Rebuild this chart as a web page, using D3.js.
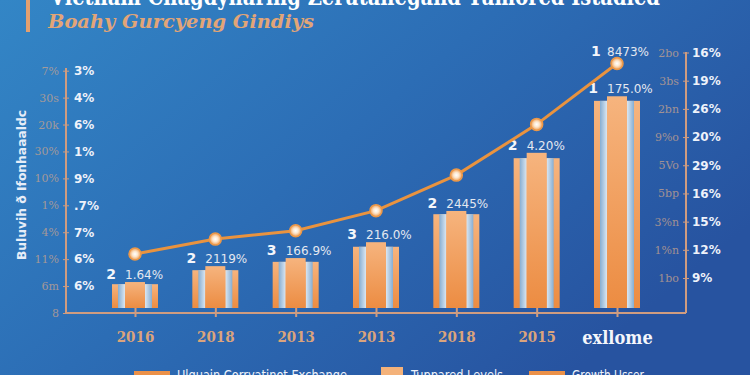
<!DOCTYPE html>
<meta charset="utf-8">
<style>
body { margin: 0; background: #2c6cb3; }
svg { display: block; }
.tick-faded { font: 11px "DejaVu Serif", serif; fill: #c9a48e; opacity: .75; }
.tick-white { font: bold 12px "DejaVu Sans", sans-serif; fill: #eef2fa; }
.axis path, .axis line { stroke: #cf9c80; }
.barlab { font: 12px "DejaVu Sans", sans-serif; fill: #e4e8f0; }
.barnum { font: bold 14px "DejaVu Sans", sans-serif; fill: #f4f6fb; }
.legend text { font: 14px "DejaVu Sans", sans-serif; fill: #eef2fa; }
</style>
<body>
<script src="https://cdn.jsdelivr.net/npm/d3@7"></script>
<script>

var width = 750, height = 375;

// data
var years = ["2016", "2018", "2013", "2013", "2018", "2015", "exllome"];
var outerVals = [1.07, 1.59, 1.90, 2.46, 3.67, 5.75, 7.88];
var innerVals = [1.15, 1.74, 2.04, 2.63, 3.79, 5.95, 8.05];
var barNums = ["2", "2", "3", "3", "2", "2", "1"];
var barLabels = ["1.64%", "2119%", "166.9%", "216.0%", "2445%", "4.20%", "175.0%"];
var lineVals = [1.85, 2.38, 2.68, 3.39, 4.65, 6.45, 8.61];
var lineTopNum = "1", lineTopLabel = "8473%";

var leftFaded = ["8", "6m", "11%", "4%", "1%", "10%", "30%", "20k", "30s", "7%"];
var leftWhite = ["", "6%", "6%", "7%", ".7%", "9%", "1%", "6%", "4%", "3%"];
var rightFaded = ["", "1bo", "1%n", "3%n", "5bp", "5Vo", "9%o", "2bn", "3bs", "2bo"];
var rightWhite = ["", "9%", "12%", "15%", "16%", "29%", "20%", "26%", "19%", "16%"];

var title = "Vietnam Cnagdynaring Zerutanegand Tumored Istadied";
var subtitle = "Boahy Gurcyeng Gindiys";
var yTitle = "Buluvih ð Ifonhaaaldc";
var legendItems = ["Ulquain Corryatinot Exchange", "Tuppared Levels", "Growth Usser"];

var svg = d3.select("body").append("svg")
    .attr("width", width)
    .attr("height", height);

var defs = svg.append("defs");

var bg = defs.append("linearGradient").attr("id", "bg")
    .attr("x1", 0).attr("y1", 0).attr("x2", 1).attr("y2", 0.6);
bg.append("stop").attr("offset", 0).attr("stop-color", "#3386c6");
bg.append("stop").attr("offset", 0.5).attr("stop-color", "#2c6db5");
bg.append("stop").attr("offset", 1).attr("stop-color", "#2753a0");

var og = defs.append("linearGradient").attr("id", "orange")
    .attr("x1", 0).attr("y1", 0).attr("x2", 0).attr("y2", 1);
og.append("stop").attr("offset", 0).attr("stop-color", "#f6b47e");
og.append("stop").attr("offset", 1).attr("stop-color", "#ec8c42");

var sg = defs.append("linearGradient").attr("id", "stripeL")
    .attr("x1", 0).attr("y1", 0).attr("x2", 1).attr("y2", 0);
sg.append("stop").attr("offset", 0).attr("stop-color", "#86aed3");
sg.append("stop").attr("offset", 1).attr("stop-color", "#dbe6f0");
var sg2 = defs.append("linearGradient").attr("id", "stripeR")
    .attr("x1", 0).attr("y1", 0).attr("x2", 1).attr("y2", 0);
sg2.append("stop").attr("offset", 0).attr("stop-color", "#dbe6f0");
sg2.append("stop").attr("offset", 1).attr("stop-color", "#86aed3");

var dot = defs.append("radialGradient").attr("id", "dot");
dot.append("stop").attr("offset", 0).attr("stop-color", "#ffffff");
dot.append("stop").attr("offset", 0.45).attr("stop-color", "#fde6cc");
dot.append("stop").attr("offset", 1).attr("stop-color", "#f09a4c");

svg.append("rect").attr("width", width).attr("height", height).attr("fill", "url(#bg)");

// title block
svg.append("rect").attr("x", 26).attr("y", 0).attr("width", 4).attr("height", 32).attr("fill", "#e3a070");
svg.append("text").attr("x", 50).attr("y", 5)
    .attr("textLength", 610).attr("lengthAdjust", "spacingAndGlyphs")
    .style("font", "bold 24px 'DejaVu Serif', serif").style("fill", "#ffffff")
    .text(title);
svg.append("text").attr("x", 48).attr("y", 28)
    .attr("textLength", 266).attr("lengthAdjust", "spacingAndGlyphs")
    .style("font", "italic 600 18px 'DejaVu Serif', serif").style("fill", "#e2a577")
    .text(subtitle);

// scales
var x = d3.scalePoint().domain(d3.range(years.length)).range([135, 617]);
var yL = d3.scaleLinear().domain([0, 9]).range([313, 70.7]);
var yR = d3.scaleLinear().domain([0, 9]).range([306.2, 52.5]);
var gap = 5;

// axes
var leftAx = svg.append("g").attr("class", "axis").attr("transform", "translate(66,0)");
leftAx.append("g")
    .call(d3.axisLeft(yL).ticks(9).tickSize(3).tickPadding(4).tickFormat(function(d) { return leftFaded[d]; }))
    .call(function(g) { g.select(".domain").remove(); g.selectAll("text").attr("class", "tick-faded"); });
leftAx.append("g")
    .call(d3.axisRight(yL).ticks(9).tickSize(3).tickPadding(5).tickFormat(function(d) { return leftWhite[d]; }))
    .call(function(g) { g.select(".domain").remove(); g.selectAll("text").attr("class", "tick-white"); });
leftAx.append("line").attr("y1", 68).attr("y2", 313).attr("stroke", "#cf9c80").attr("stroke-width", 2);

var rightAx = svg.append("g").attr("class", "axis").attr("transform", "translate(686,0)");
rightAx.append("g")
    .call(d3.axisLeft(yR).tickValues(d3.range(1, 10)).tickSize(3).tickPadding(4).tickFormat(function(d) { return rightFaded[d]; }))
    .call(function(g) { g.select(".domain").remove(); g.selectAll("text").attr("class", "tick-faded"); });
rightAx.append("g")
    .call(d3.axisRight(yR).tickValues(d3.range(1, 10)).tickSize(3).tickPadding(3).tickFormat(function(d) { return rightWhite[d]; }))
    .call(function(g) { g.select(".domain").remove(); g.selectAll("text").attr("class", "tick-white"); });
rightAx.append("line").attr("y1", 52).attr("y2", 313).attr("stroke", "#cf9c80").attr("stroke-width", 2);

var xAx = svg.append("g").attr("class", "axis").attr("transform", "translate(0,313)")
    .call(d3.axisBottom(x).tickSize(4).tickPadding(14).tickFormat(function(i) { return years[i]; }))
    .call(function(g) {
      g.select(".domain").remove();
      g.selectAll("text")
        .style("font", "bold 15px 'DejaVu Serif Condensed', 'DejaVu Serif', serif")
        .style("fill", "#dba47c");
      g.selectAll(".tick").filter(function(d) { return d === years.length - 1; }).select("text")
        .style("font", "bold 18px 'DejaVu Serif Condensed', 'DejaVu Serif', serif")
        .style("fill", "#f4f6fb");
    });
xAx.selectAll(".tick line").attr("y1", -gap).attr("stroke-width", 2);
svg.append("line").attr("x1", 66).attr("x2", 686).attr("y1", 313).attr("y2", 313)
    .attr("stroke", "#cf9c80").attr("stroke-width", 2);

// y title
svg.append("text")
    .attr("transform", "translate(26,185) rotate(-90)")
    .attr("text-anchor", "middle")
    .attr("textLength", 150).attr("lengthAdjust", "spacingAndGlyphs")
    .style("font", "bold 13px 'DejaVu Sans', sans-serif").style("fill", "#e6edf8")
    .text(yTitle);

// bars
var base = yL(0) - gap;
var bars = svg.append("g").selectAll("g").data(years).enter().append("g")
    .attr("transform", function(d, i) { return "translate(" + x(i) + ",0)"; });

bars.append("rect")
    .attr("x", -23).attr("width", 46)
    .attr("y", function(d, i) { return yL(outerVals[i]); })
    .attr("height", function(d, i) { return base - yL(outerVals[i]); })
    .attr("fill", "url(#orange)");
bars.append("rect")
    .attr("x", -17).attr("width", 7)
    .attr("y", function(d, i) { return yL(outerVals[i]); })
    .attr("height", function(d, i) { return base - yL(outerVals[i]); })
    .attr("fill", "url(#stripeL)");
bars.append("rect")
    .attr("x", 10).attr("width", 7)
    .attr("y", function(d, i) { return yL(outerVals[i]); })
    .attr("height", function(d, i) { return base - yL(outerVals[i]); })
    .attr("fill", "url(#stripeR)");
bars.append("rect")
    .attr("x", -10).attr("width", 20)
    .attr("y", function(d, i) { return yL(innerVals[i]); })
    .attr("height", function(d, i) { return base - yL(innerVals[i]); })
    .attr("fill", "url(#orange)");

bars.append("text").attr("class", "barnum")
    .attr("x", -24).attr("text-anchor", "middle")
    .attr("y", function(d, i) { return yL(innerVals[i]) - 3; })
    .text(function(d, i) { return barNums[i]; });
bars.append("text").attr("class", "barlab")
    .attr("x", -10)
    .attr("y", function(d, i) { return yL(innerVals[i]) - 3; })
    .text(function(d, i) { return barLabels[i]; });

// line
var line = d3.line()
    .x(function(d, i) { return x(i); })
    .y(function(d) { return yR(d); });

svg.append("path").datum(lineVals)
    .attr("d", line)
    .attr("fill", "none")
    .attr("stroke", "#e9933f")
    .attr("stroke-width", 3);

svg.append("g").selectAll("circle").data(lineVals).enter().append("circle")
    .attr("cx", function(d, i) { return x(i); })
    .attr("cy", function(d) { return yR(d); })
    .attr("r", 6)
    .attr("fill", "url(#dot)")
    .attr("stroke", "#ec9848")
    .attr("stroke-width", 1.5);

var last = lineVals.length - 1;
svg.append("text").attr("class", "barnum")
    .attr("x", x(last) - 26).attr("y", yR(lineVals[last]) - 7)
    .text(lineTopNum);
svg.append("text").attr("class", "barlab")
    .attr("x", x(last) - 10).attr("y", yR(lineVals[last]) - 7)
    .text(lineTopLabel);

// legend
var legendX = [134, 381, 529];
var swatchW = [36, 22, 36];
var legendLen = [170, 92, 72];
var lg = svg.append("g").attr("class", "legend").selectAll("g").data(legendItems).enter().append("g")
    .attr("transform", function(d, i) { return "translate(" + legendX[i] + ",0)"; });
lg.append("rect")
    .attr("y", function(d, i) { return i === 1 ? 367 : 371; })
    .attr("width", function(d, i) { return swatchW[i]; })
    .attr("height", 20)
    .attr("fill", function(d, i) { return i === 1 ? "#f4b27a" : "#ec9148"; });
lg.append("text")
    .attr("x", function(d, i) { return i === 1 ? 30 : swatchW[i] + 7; })
    .attr("y", 380)
    .attr("textLength", function(d, i) { return legendLen[i]; })
    .attr("lengthAdjust", "spacingAndGlyphs")
    .text(function(d) { return d; });

</script>
</body>
